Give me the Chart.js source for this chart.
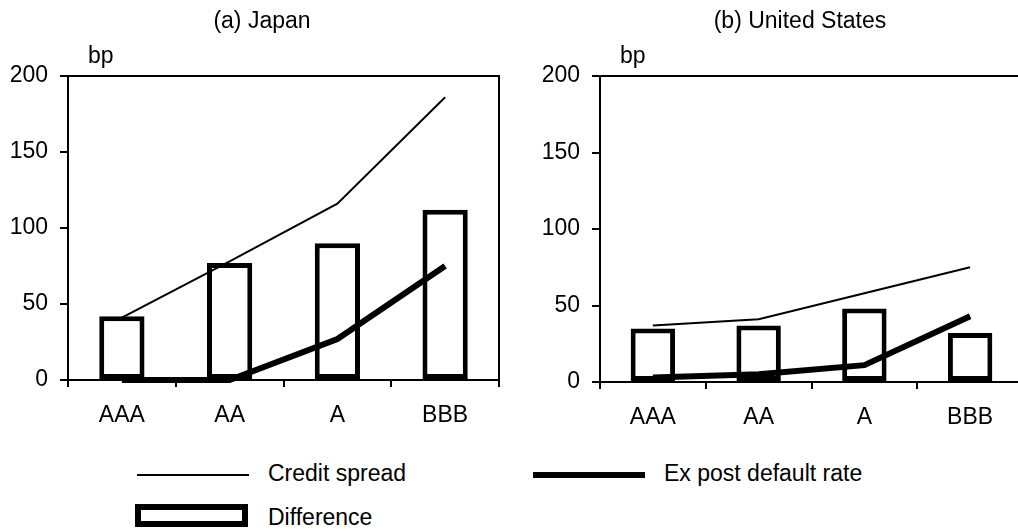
<!DOCTYPE html>
<html>
<head>
<meta charset="utf-8">
<script src="https://cdn.jsdelivr.net/npm/chart.js@4"></script>
<style>
  html, body { margin: 0; padding: 0; background: #fff; overflow: hidden; }
  body { width: 1018px; height: 531px; position: relative; font-family: "Liberation Sans", Arial, sans-serif; font-size: 23px; color: #000; }
  canvas { position: absolute; top: 0; }
  #japan { left: 0; }
  #us { left: 509px; }
  .lg-text { position: absolute; line-height: 23px; white-space: nowrap; }
  .lg-thin { position: absolute; left: 137px; top: 474px; width: 112px; height: 0; border-top: 2px solid #000; }
  .lg-thick { position: absolute; left: 533px; top: 472px; width: 112px; height: 6px; background: #000; }
  .lg-box { position: absolute; left: 135px; top: 504px; width: 101px; height: 11px; border: 6px solid #000; background: #fff; }
</style>
</head>
<body>
<canvas id="japan" width="509" height="450"></canvas>
<canvas id="us" width="520" height="450"></canvas>

<div class="lg-thin"></div>
<div class="lg-text" style="left:268px; top:462px;">Credit spread</div>
<div class="lg-thick"></div>
<div class="lg-text" style="left:664px; top:462px;">Ex post default rate</div>
<div class="lg-box"></div>
<div class="lg-text" style="left:268px; top:506px;">Difference</div>

<script>
// ratings on the x axis
const categories = ['AAA', 'AA', 'A', 'BBB'];

// (a) Japan, bp
const japanSpread = [41, 78, 116, 186];
const japanDefault = [0, 0, 27, 75];
const japanDiff = [42, 77, 90, 112];

// (b) United States, bp
const usSpread = [37, 41, 58, 75];
const usDefault = [3, 5, 11, 43];
const usDiff = [35, 37, 48, 32];

const yMin = 0, yMax = 200, yStep = 50;

Chart.defaults.font.family = '"Liberation Sans", Arial, sans-serif';
Chart.defaults.font.size = 23;
Chart.defaults.color = '#000';

// top + right edge of the plot box
const framePlugin = {
    id: 'frame',
    afterDraw: (chart) => {
        const { ctx, chartArea: a } = chart;
        ctx.save();
        ctx.strokeStyle = '#000';
        ctx.lineWidth = 2;
        ctx.beginPath();
        ctx.moveTo(a.left, a.top);
        ctx.lineTo(a.right, a.top);
        ctx.lineTo(a.right, a.bottom);
        ctx.stroke();
        ctx.restore();
    }
};

// panel title and unit label
const panelTextPlugin = {
    id: 'panelText',
    afterDraw: (chart, args, opts) => {
        const { ctx, chartArea: a } = chart;
        ctx.save();
        ctx.fillStyle = '#000';
        ctx.font = '23px "Liberation Sans", Arial, sans-serif';
        ctx.textBaseline = 'middle';
        ctx.textAlign = 'center';
        ctx.fillText(opts.title, opts.titleX, 22);
        ctx.textAlign = 'left';
        ctx.fillText(opts.unit, a.left + 20, a.top - 19);
        ctx.restore();
    }
};

function makePanel(id, title, titleX, spread, deflt, diff, yWidth, rightPad, xHeight) {
    return new Chart(document.getElementById(id), {
        data: {
            labels: categories,
            datasets: [
                { type: 'line', label: 'Credit spread', data: spread, borderColor: '#000', borderWidth: 2,
                  pointRadius: 0, tension: 0, borderCapStyle: 'butt', order: 0, clip: false },
                { type: 'line', label: 'Ex post default rate', data: deflt, borderColor: '#000', borderWidth: 6,
                  pointRadius: 0, tension: 0, borderCapStyle: 'butt', order: 0, clip: false },
                { type: 'bar', label: 'Difference', data: diff, backgroundColor: '#fff', borderColor: '#000',
                  borderWidth: 5, borderSkipped: false, categoryPercentage: 1, barPercentage: 0.42, order: 1 }
            ]
        },
        options: {
            responsive: false,
            animation: false,
            layout: { padding: { top: 76, right: rightPad, left: 0, bottom: 0 } },
            scales: {
                x: {
                    type: 'category',
                    offset: true,
                    grid: { offset: true, drawOnChartArea: false, drawTicks: true, tickLength: 7, color: '#000', lineWidth: 2 },
                    border: { display: true, color: '#000', width: 2 },
                    ticks: { padding: 15, maxRotation: 0, minRotation: 0 },
                    afterFit: (s) => { s.height = xHeight; }
                },
                y: {
                    min: yMin, max: yMax,
                    ticks: { stepSize: yStep, padding: 12 },
                    grid: { drawOnChartArea: false, drawTicks: true, tickLength: 8, color: '#000', lineWidth: 2 },
                    border: { display: true, color: '#000', width: 2 },
                    afterFit: (s) => { s.width = yWidth; }
                }
            },
            plugins: {
                legend: { display: false },
                tooltip: { enabled: false },
                panelText: { title: title, titleX: titleX, unit: 'bp' }
            }
        },
        plugins: [framePlugin, panelTextPlugin]
    });
}

makePanel('japan', '(a) Japan', 262, japanSpread, japanDefault, japanDiff, 68, 10, 70);
makePanel('us', '(b) United States', 291, usSpread, usDefault, usDiff, 91, 6, 68);
</script>
</body>
</html>
